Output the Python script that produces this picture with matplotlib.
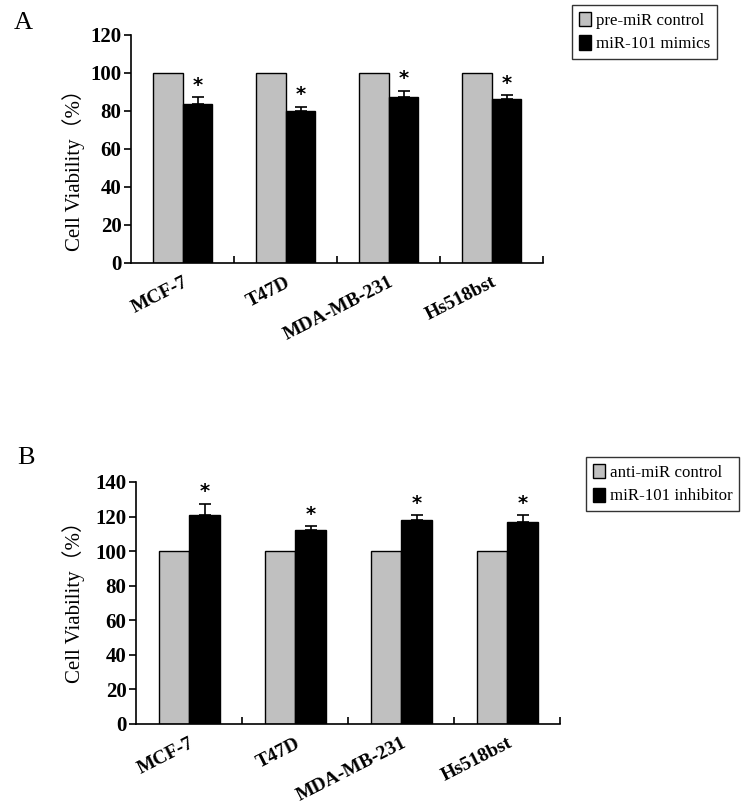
import numpy as np
import matplotlib
matplotlib.use('Agg')
import matplotlib.pyplot as plt

matplotlib.rcParams.update({'font.family': ['Liberation Serif', 'Noto Sans CJK SC'],
                            'font.size': 11})

cells = ['MCF-7', 'T47D', 'MDA-MB-231', 'Hs518bst']

# panel A
ctrl_a = [100, 100, 100, 100]
mimic_a = [83.5, 80, 87, 86]
mimic_a_err = [3.5, 2.2, 3.6, 2.0]
labels_a = ['pre-miR control', 'miR-101 mimics']
yticks_a = [0, 20, 40, 60, 80, 100, 120]

# panel B
ctrl_b = [100, 100, 100, 100]
inhib_b = [121, 112, 118, 117]
inhib_b_err = [6.5, 2.3, 2.8, 3.8]
labels_b = ['anti-miR control', 'miR-101 inhibitor']
yticks_b = [0, 20, 40, 60, 80, 100, 120, 140]

grey = '#c0c0c0'
w = 0.29


def panel(ax, ctrl, treat, err, labels, yticks, legpos, labpos):
    x = np.arange(len(cells)) + 0.5
    b1 = ax.bar(x - w/2, ctrl, w, color=grey, edgecolor='black', linewidth=1.0, label=labels[0])
    b2 = ax.bar(x + w/2, treat, w, color='black', edgecolor='black', linewidth=1.0, label=labels[1])
    ax.errorbar(x + w/2, treat, yerr=[np.zeros(len(err)), err], fmt='none',
                ecolor='black', elinewidth=1.2, capsize=4.5, capthick=1.2)
    for xi, t, e in zip(x, treat, err):
        ax.text(xi + w/2, t + e + 1.5, '*', ha='center', va='bottom',
                fontsize=14, fontweight='bold', family='DejaVu Sans')
    ax.set_xlim(0, len(cells))
    ax.set_ylim(0, yticks[-1])
    ax.set_yticks(yticks)
    ax.set_yticklabels([str(t) for t in yticks], fontsize=15, fontweight='bold')
    ax.set_xticks(np.arange(1, len(cells) + 1))
    ax.set_xticklabels([])
    ax.tick_params(axis='x', which='major', direction='in', length=5, width=1.2)
    ax.set_xticks(x, minor=True)
    ax.set_xticklabels(cells, minor=True, rotation=27, fontsize=14, fontweight='bold',
                       ha='right', rotation_mode='anchor')
    ax.tick_params(axis='x', which='minor', length=0, pad=8)
    ax.tick_params(axis='y', direction='out', length=5, width=1.2, pad=2)
    for s in ['top', 'right']:
        ax.spines[s].set_visible(False)
    for s in ['left', 'bottom']:
        ax.spines[s].set_linewidth(1.2)
    ax.set_ylabel('Cell Viability（%）', fontsize=15)
    ax.yaxis.set_label_coords(*labpos)
    leg = ax.legend(handles=[b1, b2], loc='upper left', bbox_to_anchor=legpos, fontsize=12.2,
                    frameon=True, fancybox=False, edgecolor='black', handlelength=0.7,
                    handleheight=0.9, handletextpad=0.3, borderpad=0.4, labelspacing=0.4,
                    borderaxespad=0)
    leg.get_frame().set_linewidth(1.0)


fig = plt.figure(figsize=(7.45, 8.06), dpi=100)
ax1 = fig.add_axes([0.176, 0.674, 0.553, 0.283])
ax2 = fig.add_axes([0.183, 0.102, 0.569, 0.300])

panel(ax1, ctrl_a, mimic_a, mimic_a_err, labels_a, yticks_a, (1.07, 1.13), (-0.112, 0.43))
panel(ax2, ctrl_b, inhib_b, inhib_b_err, labels_b, yticks_b, (1.061, 1.103), (-0.120, 0.525))

fig.text(0.019, 0.971, 'A', fontsize=19, va='center', ha='left')
fig.text(0.023, 0.432, 'B', fontsize=19, va='center', ha='left')

fig.savefig('out.png', dpi=100)
